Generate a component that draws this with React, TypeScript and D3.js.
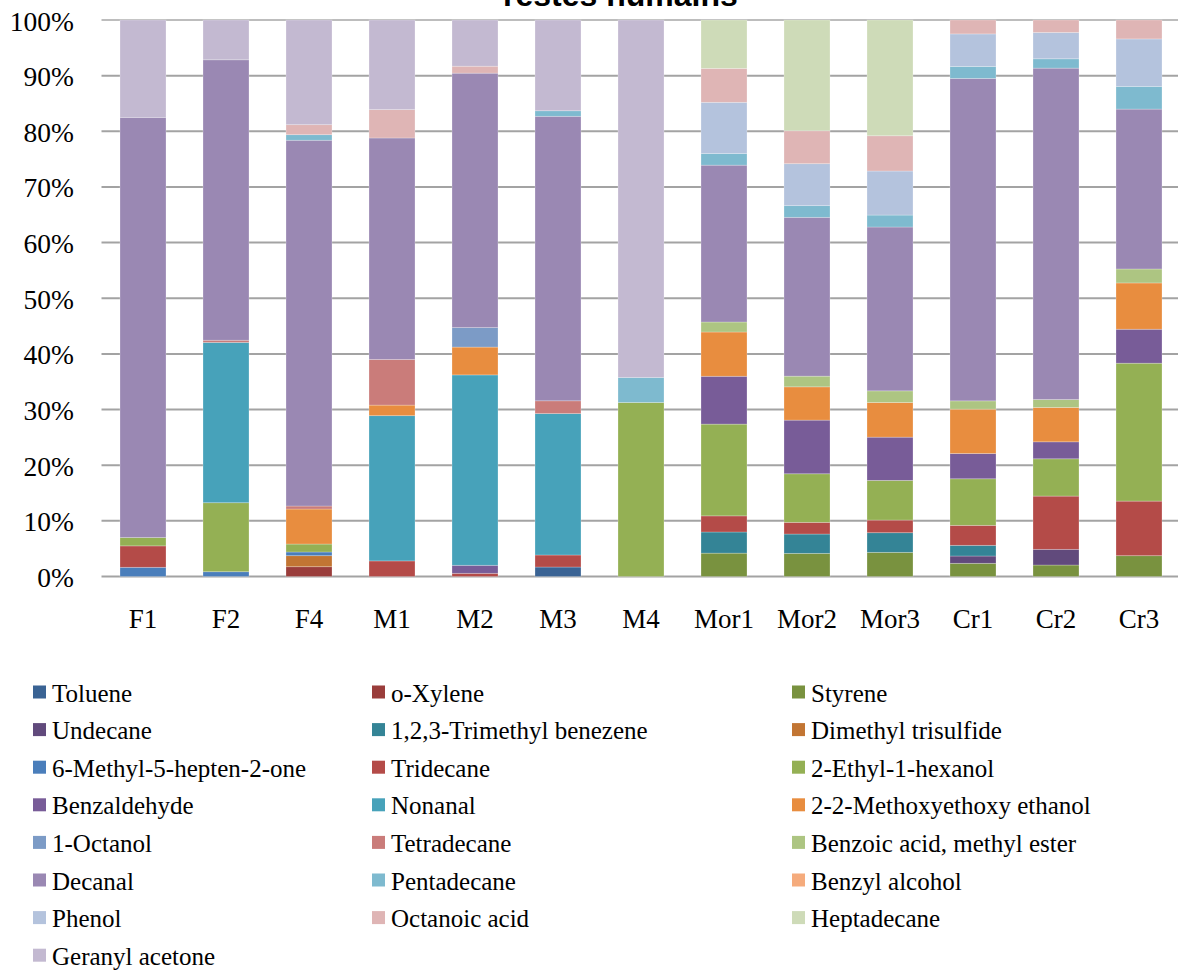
import React from "react";
import * as d3 from "d3";

const categories = ["F1", "F2", "F4", "M1", "M2", "M3", "M4", "Mor1", "Mor2", "Mor3", "Cr1", "Cr2", "Cr3"];

const seriesNames = [
  "Toluene", "o-Xylene", "Styrene",
  "Undecane", "1,2,3-Trimethyl benezene", "Dimethyl trisulfide",
  "6-Methyl-5-hepten-2-one", "Tridecane", "2-Ethyl-1-hexanol",
  "Benzaldehyde", "Nonanal", "2-2-Methoxyethoxy ethanol",
  "1-Octanol", "Tetradecane", "Benzoic acid, methyl ester",
  "Decanal", "Pentadecane", "Benzyl alcohol",
  "Phenol", "Octanoic acid", "Heptadecane",
  "Geranyl acetone",
];

const seriesColors = [
  "#3A6394", "#9A3D3B", "#79923F",
  "#614A7C", "#348496", "#C27533",
  "#4A7EBB", "#B44B48", "#94B054",
  "#785C98", "#47A2BA", "#E88D3F",
  "#7C9BC6", "#CA7C7A", "#ADC582",
  "#9A88B3", "#7EBACF", "#F5AB7C",
  "#B4C3DD", "#DFB5B5", "#CEDBB8",
  "#C3B9D1",
];

// values per series, in the order of categories
const toluene = [0, 0, 0, 0, 0, 1.7, 0, 0, 0, 0, 0, 0, 0];
const oXylene = [0, 0, 1.76, 0, 0, 0, 0, 0, 0, 0, 0, 0, 0];
const styrene = [0, 0, 0, 0, 0, 0, 0, 4.2, 4.16, 4.34, 2.37, 2.06, 3.74];
const undecane = [0, 0, 0, 0, 0, 0, 0, 0, 0, 0, 1.31, 2.82, 0];
const trimethylBenzene = [0, 0, 0, 0, 0, 0, 0, 3.8, 3.47, 3.53, 1.92, 0, 0];
const dimethylTrisulfide = [0, 0, 1.98, 0, 0, 0, 0, 0, 0, 0, 0, 0, 0];
const methylHeptenone = [1.65, 0.86, 0.66, 0, 0, 0, 0, 0, 0, 0, 0, 0, 0];
const tridecane = [3.85, 0, 0, 2.8, 0.57, 2.16, 0, 2.9, 2.1, 2.27, 3.59, 9.57, 9.81];
const ethylHexanol = [1.5, 12.4, 1.43, 0, 0, 0, 31.27, 16.5, 8.73, 7.13, 8.37, 6.7, 24.78];
const benzaldehyde = [0, 0, 0, 0, 1.44, 0, 0, 8.6, 9.64, 7.77, 4.54, 3.05, 6.1];
const nonanal = [0, 28.8, 0, 26.1, 34.2, 25.4, 0, 0, 0, 0, 0, 0, 0];
const methoxyethoxyEthanol = [0, 0, 6.29, 1.9, 5.0, 0, 0, 7.96, 5.98, 6.23, 7.97, 6.18, 8.32];
const octanol = [0, 0, 0, 0, 3.5, 0, 0, 0, 0, 0, 0, 0, 0];
const tetradecane = [0, 0.4, 0.54, 8.2, 0, 2.3, 0, 0, 0, 0, 0, 0, 0];
const benzoicEster = [0, 0, 0, 0, 0, 0, 0, 1.8, 1.92, 2.09, 1.49, 1.42, 2.51];
const decanal = [75.5, 50.4, 65.7, 39.8, 45.7, 51.1, 0, 28.2, 28.54, 29.44, 57.94, 59.55, 28.73];
const pentadecane = [0, 0, 1.0, 0, 0, 1.0, 4.5, 2.1, 2.1, 2.15, 2.15, 1.68, 4.07];
const benzylAlcohol = [0, 0, 0, 0, 0, 0, 0, 0, 0, 0, 0, 0, 0];
const phenol = [0, 0, 0, 0, 0, 0, 0, 9.2, 7.54, 7.91, 5.85, 4.73, 8.54];
const octanoicAcid = [0, 0, 1.8, 5.1, 1.25, 0, 0, 6.1, 5.92, 6.34, 2.5, 2.24, 3.4];
const heptadecane = [0, 0, 0, 0, 0, 0, 0, 8.7, 19.9, 20.8, 0, 0, 0];
const geranylAcetone = [17.5, 7.15, 18.8, 16.1, 8.3, 16.3, 64.24, 0, 0, 0, 0, 0, 0];

const seriesValues = [
  toluene, oXylene, styrene,
  undecane, trimethylBenzene, dimethylTrisulfide,
  methylHeptenone, tridecane, ethylHexanol,
  benzaldehyde, nonanal, methoxyethoxyEthanol,
  octanol, tetradecane, benzoicEster,
  decanal, pentadecane, benzylAlcohol,
  phenol, octanoicAcid, heptadecane,
  geranylAcetone,
];

const yTicks = [0, 10, 20, 30, 40, 50, 60, 70, 80, 90, 100];
const titleText = "restes humains";

export default function App() {
  const W = 1178;
  const H = 970;
  const plotLeft = 101.5;
  const plotRight = 1180.5;
  const plotTop = 20;
  const plotBottom = 576.5;

  const rows = categories.map((c, i) => {
    const r: Record<string, any> = { cat: c };
    seriesNames.forEach((s, k) => (r[s] = seriesValues[k][i]));
    return r;
  });

  const stacked = d3
    .stack<any>()
    .keys(seriesNames)
    .offset(d3.stackOffsetExpand)(rows);

  const x = d3
    .scaleBand<string>()
    .domain(categories)
    .range([plotLeft, plotRight])
    .paddingInner(0.446)
    .paddingOuter(0.223);

  const y = d3.scaleLinear().domain([0, 100]).range([plotBottom, plotTop]);

  const serif = "'Liberation Serif', 'Times New Roman', serif";

  const legendColX = [33, 372, 792];
  const legendRow0 = 692;
  const legendRowH = 37.6;

  return (
    <svg
      width={W}
      height={H}
      style={{ position: "absolute", left: 0, top: 0, background: "#fff" }}
    >
      <rect x={0} y={0} width={W} height={H} fill="#fff" />
      <text
        x={503}
        y={6}
        fontFamily="'Liberation Sans', Arial, sans-serif"
        fontWeight="bold"
        fontSize={32}
        fill="#000"
      >
        {titleText}
      </text>
      {/* gridlines */}
      {yTicks.map((t) => (
        <line
          key={t}
          x1={plotLeft}
          x2={W}
          y1={y(t)}
          y2={y(t)}
          stroke={t === 100 ? "#BDBDBD" : "#A3A3A3"}
          strokeWidth={2}
        />
      ))}
      {/* y labels */}
      {yTicks.map((t) => (
        <text
          key={"l" + t}
          x={74}
          y={y(t) + 1}
          textAnchor="end"
          dominantBaseline="central"
          fontFamily={serif}
          fontSize={27.5}
          fill="#000"
        >
          {t + "%"}
        </text>
      ))}
      {/* bars */}
      {stacked.map((layer, k) => (
        <g key={seriesNames[k]} fill={seriesColors[k]}>
          {layer.map((d, i) => {
            const h = y(d[0] * 100) - y(d[1] * 100);
            if (h <= 0) return null;
            return (
              <rect
                key={i}
                x={x(categories[i])}
                y={y(d[1] * 100)}
                width={x.bandwidth()}
                height={h}
                stroke="rgba(255,255,255,0.3)"
                strokeWidth={0.8}
              />
            );
          })}
        </g>
      ))}
      {/* x labels */}
      {categories.map((c) => (
        <text
          key={c}
          x={(x(c) as number) + x.bandwidth() / 2}
          y={628}
          textAnchor="middle"
          fontFamily={serif}
          fontSize={27}
          fill="#000"
        >
          {c}
        </text>
      ))}
      {/* legend */}
      {seriesNames.map((s, k) => {
        const col = k % 3;
        const row = Math.floor(k / 3);
        const cy = legendRow0 + row * legendRowH;
        const lx = legendColX[col];
        return (
          <g key={"lg" + s}>
            <rect x={lx} y={cy - 6.5} width={13} height={13} fill={seriesColors[k]} />
            <text
              x={lx + 19}
              y={cy + 1}
              dominantBaseline="central"
              fontFamily={serif}
              fontSize={25}
              fill="#000"
            >
              {s}
            </text>
          </g>
        );
      })}
    </svg>
  );
}
